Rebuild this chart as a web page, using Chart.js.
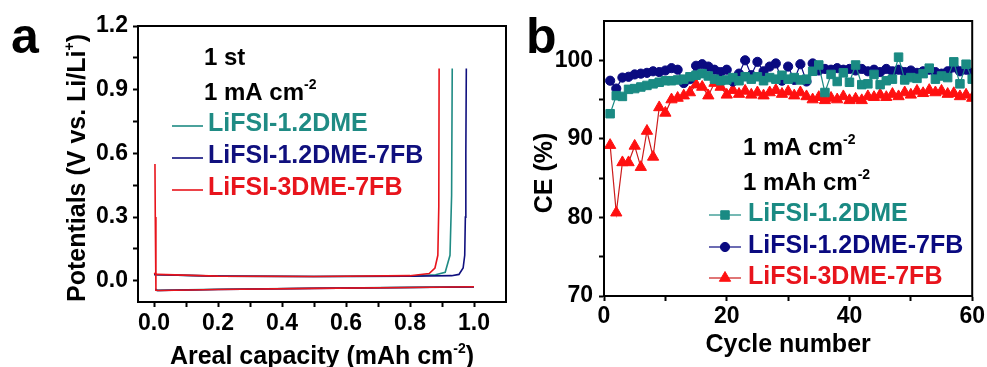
<!DOCTYPE html>
<html lang="en">
<head>
  <meta charset="UTF-8">
  <title>Li plating / stripping and CE</title>
  <style>
    html, body { margin: 0; padding: 0; background: #fff; }
    body { width: 987px; height: 367px; position: relative; overflow: hidden; }
    canvas { position: absolute; top: 0; }
    #chartA { left: 0; }
    #chartB { left: 516px; }
  </style>
</head>
<body>
  <canvas id="chartA" width="516" height="367"></canvas>
  <canvas id="chartB" width="471" height="367"></canvas>

  <script src="https://cdn.jsdelivr.net/npm/chart.js"></script>
  <script>
    // ---- panel a: voltage profiles (1st cycle, 1 mA cm-2) ----
    const seriesNames = ['LiFSI-1.2DME', 'LiFSI-1.2DME-7FB', 'LiFSI-3DME-7FB'];
    const seriesColors = ['#1f8b84', '#10107e', '#e8141c'];

    const platCapTeal = [0.004, 0.01, 0.2, 0.5, 0.8, 1.0];
    const platVTeal   = [-0.040, -0.045, -0.040, -0.035, -0.031, -0.028];
    const stripCapTeal = [0.0, 0.01, 0.2, 0.5, 0.8, 0.88, 0.91, 0.925, 0.93, 0.932];
    const stripVTeal   = [0.030, 0.028, 0.022, 0.020, 0.022, 0.028, 0.040, 0.12, 0.40, 1.0];

    const platCapNavy = [0.004, 0.01, 0.2, 0.5, 0.8, 1.0];
    const platVNavy   = [-0.040, -0.046, -0.041, -0.036, -0.032, -0.029];
    const stripCapNavy = [0.0, 0.01, 0.2, 0.5, 0.8, 0.93, 0.953, 0.966, 0.971, 0.973, 0.974, 0.975, 0.976];
    const stripVNavy   = [0.030, 0.028, 0.022, 0.020, 0.021, 0.024, 0.030, 0.060, 0.12, 0.30, 0.55, 0.60, 1.0];

    const platCapRed = [0.003, 0.004, 0.006, 0.02, 0.2, 0.5, 0.8, 1.0];
    const platVRed   = [0.55, 0.30, -0.045, -0.046, -0.041, -0.036, -0.032, -0.028];
    const stripCapRed = [0.0, 0.01, 0.2, 0.5, 0.8, 0.86, 0.878, 0.887, 0.89, 0.891];
    const stripVRed   = [0.035, 0.030, 0.022, 0.020, 0.024, 0.034, 0.060, 0.12, 0.35, 1.0];

    const capTicks = [0.0, 0.1, 0.2, 0.3, 0.4, 0.5, 0.6, 0.7, 0.8, 0.9, 1.0];
    const capTickLabels = ['0.0', '', '0.2', '', '0.4', '', '0.6', '', '0.8', '', '1.0'];
    const potTicks = [0.0, 0.15, 0.3, 0.45, 0.6, 0.75, 0.9, 1.05, 1.2];
    const potTickLabels = ['0.0', '', '0.3', '', '0.6', '', '0.9', '', '1.2'];

    // ---- panel b: coulombic efficiency vs cycle ----
    const cycles = [1, 2, 3, 4, 5, 6, 7, 8, 9, 10, 11, 12, 13, 14, 15, 16, 17, 18, 19, 20,
      21, 22, 23, 24, 25, 26, 27, 28, 29, 30, 31, 32, 33, 34, 35, 36, 37, 38, 39, 40,
      41, 42, 43, 44, 45, 46, 47, 48, 49, 50, 51, 52, 53, 54, 55, 56, 57, 58, 59, 60];
    const ceTeal = [93.2, 95.5, 95.4, 96.3, 96.4, 96.6, 96.8, 97.0, 97.2, 97.4,
      97.4, 97.5, 97.6, 97.9, 98.1, 98.3, 98.0, 97.6, 97.4, 97.5,
      97.8, 97.4, 97.9, 97.6, 97.9, 97.4, 97.8, 97.6, 98.1, 97.6,
      97.8, 97.5, 97.6, 98.6, 99.4, 95.9, 98.2, 97.3, 98.4, 97.2,
      99.4, 96.9, 97.0, 98.2, 96.9, 97.4, 97.6, 100.4, 97.5, 97.8,
      97.7, 98.3, 99.0, 97.6, 98.0, 97.8, 99.8, 97.0, 99.5, 97.6];
    const ceNavy = [97.4, 96.4, 97.8, 97.9, 98.2, 98.3, 98.4, 98.6, 98.5, 98.7,
      99.0, 98.8, 97.1, 97.6, 99.3, 99.5, 99.2, 98.8, 98.5, 98.8,
      97.3, 98.3, 100.0, 98.1, 99.8, 98.6, 99.2, 99.6, 97.4, 99.2,
      97.5, 99.5, 97.3, 99.6, 98.7, 98.9, 98.8, 99.0, 98.8, 98.9,
      98.7, 98.9, 98.6, 98.8, 98.5, 98.9, 98.6, 98.8, 98.5, 98.7,
      98.4, 98.6, 98.8, 98.5, 98.3, 98.6, 99.1, 98.6, 98.8, 98.4];
    const ceRed = [89.2, 80.6, 87.0, 87.0, 89.1, 86.4, 91.0, 87.7, 94.0, 93.3,
      95.0, 95.2, 95.5, 95.9, 96.9, 96.6, 95.5, 97.1, 96.6, 95.6,
      96.2, 95.7, 96.1, 95.6, 95.9, 95.5, 95.9, 96.2, 95.7, 96.0,
      95.5, 95.9, 95.4, 95.0, 95.3, 94.9, 95.2, 95.0, 95.4, 94.9,
      95.1, 94.9, 95.4, 95.3, 95.6, 95.3, 95.7, 95.4, 95.9, 95.6,
      96.1, 95.8, 96.2, 95.9, 96.1, 95.7, 95.8, 95.4, 95.6, 95.2];

    const cycleTicks = [0, 10, 20, 30, 40, 50, 60];
    const cycleTickLabels = ['0', '', '20', '', '40', '', '60'];
    const ceTicks = [70, 75, 80, 85, 90, 95, 100];
    const ceTickLabels = ['70', '', '80', '', '90', '', '100'];

    const FONT = "'Liberation Sans', Arial, sans-serif";
    const zip = (xs, ys) => xs.map((x, i) => ({ x: x, y: ys[i] }));

    // draws text with "^" parts as superscripts; returns width
    function richText(ctx, x, y, parts, size, color, measureOnly) {
      ctx.save();
      ctx.fillStyle = color;
      ctx.textAlign = 'left';
      ctx.textBaseline = 'alphabetic';
      let cx = x;
      parts.forEach(p => {
        const sup = p.charAt(0) === '^';
        const t = sup ? p.slice(1) : p;
        ctx.font = 'bold ' + (sup ? Math.round(size * 0.58) : size) + 'px ' + FONT;
        if (!measureOnly) ctx.fillText(t, cx, sup ? y - size * 0.44 : y);
        cx += ctx.measureText(t).width;
      });
      ctx.restore();
      return cx - x;
    }

    function centeredText(ctx, cx, cy, parts, size, color, rotate) {
      const w = richText(ctx, 0, 0, parts, size, color, true);
      ctx.save();
      ctx.translate(cx, cy);
      if (rotate) ctx.rotate(-Math.PI / 2);
      richText(ctx, -w / 2, 0, parts, size, color);
      ctx.restore();
    }

    function boxPlugin(id, draw) {
      return {
        id: id,
        afterDraw(chart) {
          const ctx = chart.ctx;
          const a = chart.chartArea;
          ctx.save();
          ctx.strokeStyle = '#000';
          ctx.lineWidth = 2;
          ctx.strokeRect(a.left, a.top, a.right - a.left, a.bottom - a.top);
          ctx.restore();
          draw(chart, ctx, a);
        }
      };
    }

    function axisOpts(min, max, ticks, labels, pad, size) {
      return {
        type: 'linear',
        min: min,
        max: max,
        afterBuildTicks: axis => { axis.ticks = ticks.map(v => ({ value: v })); },
        afterFit: axis => {
          if (axis.isHorizontal()) axis.height = size; else axis.width = size;
        },
        ticks: {
          autoSkip: false,
          maxRotation: 0,
          padding: pad,
          color: '#000',
          font: { family: FONT, size: 23, weight: 'bold' },
          callback: (v, i) => labels[i]
        },
        grid: { drawOnChartArea: false, drawTicks: true, tickLength: 5, tickWidth: 2, tickColor: '#000' },
        border: { display: true, color: '#000', width: 2 }
      };
    }

    const commonOpts = {
      responsive: false,
      animation: false,
      events: [],
      plugins: { legend: { display: false }, tooltip: { enabled: false } }
    };

    // ---------- chart a ----------
    const lineSet = (cap, v, color) => ({
      data: zip(cap, v), showLine: true, borderColor: color, borderWidth: 1.6,
      pointRadius: 0, tension: 0, fill: false
    });

    new Chart(document.getElementById('chartA'), {
      type: 'scatter',
      data: {
        datasets: [
          lineSet(platCapRed, platVRed, seriesColors[2]),
          lineSet(stripCapRed, stripVRed, seriesColors[2]),
          lineSet(platCapNavy, platVNavy, seriesColors[1]),
          lineSet(stripCapNavy, stripVNavy, seriesColors[1]),
          lineSet(platCapTeal, platVTeal, seriesColors[0]),
          lineSet(stripCapTeal, stripVTeal, seriesColors[0])
        ]
      },
      options: Object.assign({}, commonOpts, {
        layout: { padding: { top: 26, right: 10, left: 0, bottom: 0 } },
        scales: {
          x: axisOpts(-0.05, 1.1, capTicks, capTickLabels, 3, 65),
          y: axisOpts(-0.1, 1.2, potTicks, potTickLabels, 5, 138)
        }
      }),
      plugins: [boxPlugin('decorA', (chart, ctx, a) => {
        ctx.save();
        ctx.fillStyle = '#000';
        ctx.font = 'bold 50px ' + FONT;
        ctx.fillText('a', 11, 53);
        ctx.restore();
        centeredText(ctx, (a.left + a.right) / 2, 364, ['Areal capacity (mAh cm', '^-2', ')'], 25, '#000');
        centeredText(ctx, 85, 168, ['Potentials (V vs. Li/Li', '^+', ')'], 25, '#000', true);
        richText(ctx, 204, 65, ['1 st'], 24, '#000');
        richText(ctx, 204, 100, ['1 mA cm', '^-2'], 24, '#000');
        const rows = [126, 158, 190];
        seriesNames.forEach((name, i) => {
          ctx.save();
          ctx.strokeStyle = seriesColors[i];
          ctx.lineWidth = 1.6;
          ctx.beginPath();
          ctx.moveTo(172, rows[i]);
          ctx.lineTo(203, rows[i]);
          ctx.stroke();
          ctx.restore();
          richText(ctx, 208, rows[i] + 5, [name], 25, seriesColors[i]);
        });
      })]
    });

    // ---------- chart b ----------
    const markerColors = ['#1a8a83', '#0a0a80', '#ff1010'];
    const lineColors = ['#1a8a83', '#0a0a80', '#cc1c1c'];
    const textColors = ['#1a8a83', '#0a0a80', '#e8141c'];
    const markerStyles = ['rect', 'circle', 'triangle'];
    const markerRadius = [6, 4.6, 6.5];
    const ceSeries = [ceTeal, ceNavy, ceRed];

    new Chart(document.getElementById('chartB'), {
      type: 'scatter',
      data: {
        datasets: ceSeries.map((vals, i) => ({
          data: zip(cycles, vals),
          showLine: true,
          borderColor: lineColors[i],
          borderWidth: 1.2,
          pointStyle: markerStyles[i],
          pointRadius: markerRadius[i],
          pointBackgroundColor: markerColors[i],
          pointBorderColor: markerColors[i],
          pointBorderWidth: 1,
          tension: 0
        }))
      },
      options: Object.assign({}, commonOpts, {
        layout: { padding: { top: 21, right: 14, left: 0, bottom: 0 } },
        scales: {
          x: axisOpts(0, 60, cycleTicks, cycleTickLabels, 2, 71),
          y: axisOpts(70, 105, ceTicks, ceTickLabels, 6, 88)
        }
      }),
      plugins: [boxPlugin('decorB', (chart, ctx, a) => {
        ctx.save();
        ctx.fillStyle = '#000';
        ctx.font = 'bold 50px ' + FONT;
        ctx.fillText('b', 10, 53);
        ctx.restore();
        centeredText(ctx, (a.left + a.right) / 2, 352, ['Cycle number'], 25, '#000');
        centeredText(ctx, 36, 173, ['CE (%)'], 25, '#000', true);
        richText(ctx, 227, 155, ['1 mA cm', '^-2'], 24, '#000');
        richText(ctx, 227, 190, ['1 mAh cm', '^-2'], 24, '#000');
        const rows = [215, 247, 278];
        seriesNames.forEach((name, i) => {
          ctx.save();
          ctx.strokeStyle = lineColors[i];
          ctx.lineWidth = 1.2;
          ctx.beginPath();
          ctx.moveTo(193, rows[i]);
          ctx.lineTo(225, rows[i]);
          ctx.stroke();
          ctx.fillStyle = markerColors[i];
          ctx.strokeStyle = markerColors[i];
          ctx.lineWidth = 1;
          Chart.helpers.drawPoint(ctx, { pointStyle: markerStyles[i], radius: markerRadius[i], rotation: 0, borderWidth: 1 }, 209, rows[i]);
          ctx.restore();
          richText(ctx, 232, rows[i] + 6, [name], 25, textColors[i]);
        });
      })]
    });
  </script>
</body>
</html>
